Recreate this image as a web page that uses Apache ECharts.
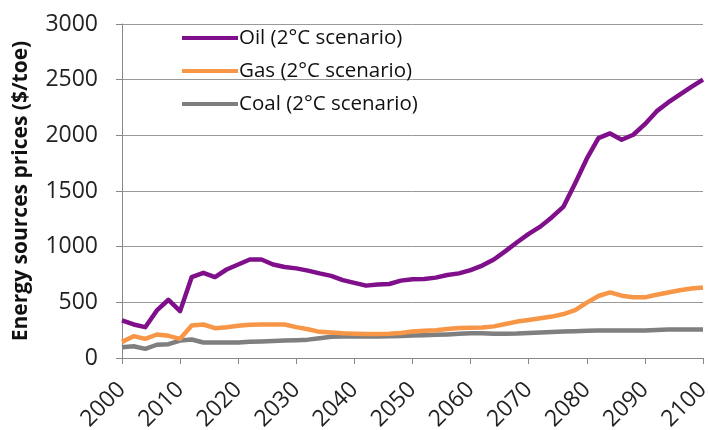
<!DOCTYPE html>
<html>
<head>
<meta charset="utf-8">
<script src="https://cdn.jsdelivr.net/npm/echarts@6/dist/echarts.min.js"></script>
<style>html,body{margin:0;padding:0;background:#fff}#c{width:708px;height:430px}</style>
</head>
<body>
<div id="c"></div>
<script>
var years = [2000,2002,2004,2006,2008,2010,2012,2014,2016,2018,2020,2022,2024,2026,2028,2030,2032,2034,2036,2038,2040,2042,2044,2046,2048,2050,2052,2054,2056,2058,2060,2062,2064,2066,2068,2070,2072,2074,2076,2078,2080,2082,2084,2086,2088,2090,2092,2094,2096,2098,2100];
var oil = [337,301,277,427,523,421,727,765,727,795,840,885,885,840,818,805,785,760,738,700,675,650,660,665,695,708,710,722,745,760,790,830,885,960,1040,1115,1180,1265,1360,1570,1790,1975,2017,1960,2005,2100,2215,2295,2365,2435,2500];
var gas = [145,196,172,211,199,172,292,301,268,277,289,298,301,301,301,277,258,235,230,222,218,216,216,218,225,238,244,250,260,270,272,274,284,305,327,342,357,372,395,430,497,557,589,560,545,545,568,589,608,624,634];
var coal = [97,106,82,119,124,157,166,139,139,139,140,145,148,152,157,160,165,178,190,193,193,193,193,195,198,202,205,208,212,218,222,222,218,218,220,225,230,233,237,240,244,246,246,246,246,246,252,255,255,255,255];
var seriesNames = ['Oil (2°C scenario)','Gas (2°C scenario)','Coal (2°C scenario)'];
var yTicks = [0,500,1000,1500,2000,2500,3000];

function pairs(vals){ return years.map(function(y,i){ return [y, vals[i]]; }); }
var colors = ['#7F0F8A','#F79646','#7F7F7F'];
var all = [oil, gas, coal];

var chart = echarts.init(document.getElementById('c'));
chart.setOption({
  animation: false,
  grid: {left: 122, right: 5, top: 24, bottom: 72, containLabel: false, outerBoundsMode: 'none'},
  legend: {
    orient: 'vertical', left: 177, top: 20,
    icon: 'rect', itemWidth: 56, itemHeight: 4, itemGap: 7,
    data: seriesNames,
    textStyle: {fontFamily: 'Open Sans', fontSize: 20.5, color: '#111', lineHeight: 26, padding: [0,0,0,-4]}
  },
  xAxis: {
    type: 'value', min: 2000, max: 2100, interval: 10,
    axisLine: {show: true, lineStyle: {color: '#888', width: 1}},
    axisTick: {show: true, length: 6, lineStyle: {color: '#888'}},
    splitLine: {show: false},
    axisLabel: {rotate: 45, fontFamily: 'Open Sans', fontSize: 23, color: '#222', margin: 28, formatter: function(v){return String(v);}}
  },
  yAxis: {
    type: 'value', min: yTicks[0], max: yTicks[yTicks.length-1], interval: 500,
    name: 'Energy sources prices ($/toe)', nameLocation: 'middle', nameGap: 90,
    nameTextStyle: {fontFamily: 'Open Sans', fontSize: 21, fontWeight: 'bold', color: '#111'},
    axisLine: {show: true, lineStyle: {color: '#888', width: 1}},
    axisTick: {show: true, length: 6, lineStyle: {color: '#888'}},
    splitLine: {show: true, lineStyle: {color: '#999', width: 1}},
    axisLabel: {fontFamily: 'Open Sans', fontSize: 23, color: '#222', margin: 24, formatter: function(v){return String(v);}}
  },
  series: seriesNames.map(function(n, i){
    return {
      name: n, type: 'line', data: pairs(all[i]), symbol: 'none', smooth: false,
      lineStyle: {color: colors[i], width: 4.5, join: 'round'},
      itemStyle: {color: colors[i]},
      z: 3 - i
    };
  })
});
</script>
</body>
</html>
